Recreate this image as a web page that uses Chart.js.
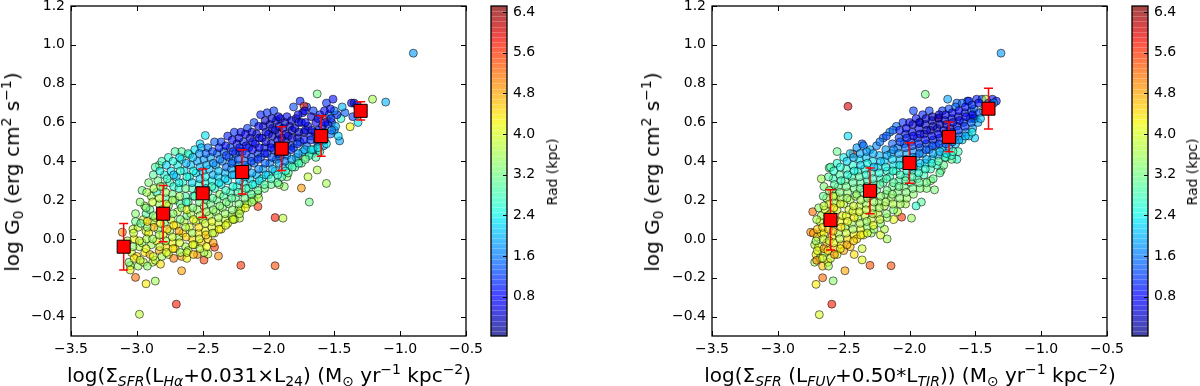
<!DOCTYPE html>
<html lang="en">
  <head>
    <meta charset="UTF-8" />
    <title>log G0 vs SFR surface density</title>
    <style>
      body { margin: 0; background: #fff; }
      .figure {
        position: relative;
        width: 1200px;
        height: 386px;
        overflow: hidden;
        font-family: "DejaVu Sans", sans-serif;
        color: #000;
      }
      .figure canvas { position: absolute; top: -20px; }
      .lbl {
        position: absolute;
        white-space: nowrap;
        font-size: 20px;
        line-height: 1;
        transform: translate(-50%, -50%);
      }
      .lbl.vert { transform: translate(-50%, -50%) rotate(-90deg); }
      .lbl.small { font-size: 14px; }
      .lo { font-size: 70%; vertical-align: -0.28em; line-height: 0; }
      .hi { font-size: 70%; vertical-align: 0.6em; line-height: 0; }
      .it { font-style: italic; }
    </style>
  </head>
  <body>
    <div class="figure">
      <canvas id="haChart" width="490" height="406" style="left:0px"></canvas>
      <canvas id="haBar" width="57" height="406" style="left:490px"></canvas>
      <canvas id="fuvChart" width="490" height="406" style="left:641px"></canvas>
      <canvas id="fuvBar" width="57" height="406" style="left:1131px"></canvas>

      <div class="lbl vert" style="left:12px; top:172px">log G<span class="lo">0</span> (erg cm<span class="hi">2</span> s<span class="hi">&minus;1</span>)</div>
      <div class="lbl" style="left:269px; top:375px">log(&Sigma;<span class="lo it">SFR</span>(L<span class="lo it">H&alpha;</span>+0.031&times;L<span class="lo">24</span>) (M<span class="lo">&#8857;</span> yr<span class="hi">&minus;1</span> kpc<span class="hi">&minus;2</span>)</div>
      <div class="lbl vert small" style="left:552px; top:172px">Rad (kpc)</div>

      <div class="lbl vert" style="left:652px; top:172px">log G<span class="lo">0</span> (erg cm<span class="hi">2</span> s<span class="hi">&minus;1</span>)</div>
      <div class="lbl" style="left:910px; top:375px">log(&Sigma;<span class="lo it">SFR</span> (L<span class="lo it">FUV</span>+0.50*L<span class="lo it">TIR</span>)) (M<span class="lo">&#8857;</span> yr<span class="hi">&minus;1</span> kpc<span class="hi">&minus;2</span>)</div>
      <div class="lbl vert small" style="left:1192px; top:172px">Rad (kpc)</div>
    </div>

    <script src="https://cdn.jsdelivr.net/npm/chart.js@4.4.1/dist/chart.umd.min.js"></script>
    <script>
      // axis ticks
      var xTicks = [-3.5, -3.0, -2.5, -2.0, -1.5, -1.0, -0.5];
      var yTicks = [-0.4, -0.2, 0.0, 0.2, 0.4, 0.6, 0.8, 1.0, 1.2];
      var radTicks = [0.8, 1.6, 2.4, 3.2, 4.0, 4.8, 5.6, 6.4];
      var radMin = 0.03;
      var radMax = 6.52;

      // left panel: [log SFR (Halpha+24um), log G0, radius kpc]
      var haPoints = [
        [-0.90,0.957,1.8],[-1.11,0.705,2.0],[-1.21,0.72,3.6],[-1.63,0.747,3.2],[-1.51,0.72,0.9],
        [-1.37,0.70,0.6],[-1.35,0.70,0.5],[-1.33,0.69,1.0],[-1.38,0.578,4.2],[-1.32,0.60,2.3],
        [-1.36,0.63,1.2],[-1.42,0.65,1.4],[-1.45,0.62,2.6],[-1.48,0.64,1.0],[-1.44,0.68,2.0],
        [-1.46,0.505,1.9],[-1.50,0.56,1.6],[-1.52,0.60,1.0],[-1.56,0.62,5.8],[-1.56,0.286,3.6],
        [-1.69,0.19,3.2],[-1.75,0.262,4.9],[-1.63,0.355,3.7],[-1.70,0.32,3.8],[-1.67,0.44,2.9],
        [-1.62,0.46,3.0],[-1.72,0.42,3.4],[-1.78,0.40,3.5],[-1.95,0.11,5.8],[-1.89,0.107,3.8],
        [-1.95,-0.138,5.4],[-2.21,-0.136,5.6],[-2.70,-0.336,5.8],[-2.98,-0.388,3.8],[-2.93,-0.231,4.3],
        [-2.86,-0.217,3.6],[-3.01,-0.198,5.2],[-3.05,-0.138,3.7],[-3.11,0.034,5.0],[-2.66,-0.164,4.8],
        [-2.49,-0.109,5.5],[-2.41,-0.043,5.6],[-2.38,-0.088,5.0],[-2.46,-0.078,3.8],[-2.08,0.167,5.6],
        [-2.27,0.107,3.6],[-2.22,0.107,3.7],[-2.48,0.533,2.3],[-2.52,0.49,2.2],[-2.60,0.434,2.8],
        [-2.66,0.45,3.0],[-2.83,0.38,3.1],[-1.88,0.27,3.4],[-1.92,0.28,3.5],[-1.86,0.32,3.3],
        [-3.07,-0.01,3.6],[-3.04,-0.07,4.0],[-3.06,-0.12,3.3],[-3.03,0.05,3.8],[-3.05,-0.16,4.1],
        [-3.01,0.13,3.4],[-2.99,0.06,3.9],[-3.02,0.00,4.2],[-2.98,-0.04,3.7],[-3.00,-0.09,4.5],[-2.99,-0.14,3.5],[-3.01,0.09,3.2],
        [-2.96,0.25,3.2],[-2.94,0.17,3.6],[-2.95,0.10,3.9],[-2.93,0.04,4.0],[-2.96,-0.02,3.5],[-2.94,-0.07,4.3],[-2.95,-0.12,3.8],[-2.93,0.13,3.0],
        [-2.91,0.29,3.3],[-2.89,0.22,3.5],[-2.90,0.15,3.1],[-2.88,0.09,3.8],[-2.91,0.03,4.2],[-2.89,-0.03,3.6],[-2.90,-0.08,4.6],[-2.88,-0.12,3.9],[-2.92,0.06,3.4],
        [-2.86,0.37,2.9],[-2.84,0.30,3.2],[-2.85,0.24,2.7],[-2.83,0.18,3.5],[-2.86,0.11,3.9],[-2.84,0.05,3.4],[-2.85,-0.01,4.1],[-2.83,-0.06,4.8],[-2.86,-0.11,3.7],
        [-2.81,0.40,2.8],[-2.79,0.33,2.5],[-2.80,0.27,3.1],[-2.78,0.21,2.9],[-2.81,0.15,3.6],[-2.79,0.08,3.3],[-2.80,0.02,4.0],[-2.78,-0.04,4.4],[-2.81,-0.09,3.6],[-2.77,0.12,3.8],
        [-2.76,0.42,2.6],[-2.74,0.35,2.3],[-2.75,0.29,2.8],[-2.73,0.23,3.2],[-2.76,0.17,3.4],[-2.74,0.10,3.9],[-2.75,0.04,3.6],[-2.73,-0.02,4.2],[-2.76,-0.08,3.8],[-2.72,0.27,2.6],
        [-2.71,0.45,2.9],[-2.69,0.38,2.4],[-2.70,0.32,2.2],[-2.68,0.26,2.7],[-2.71,0.20,3.3],[-2.69,0.14,3.7],[-2.70,0.07,4.1],[-2.68,0.01,3.5],[-2.71,-0.05,4.6],[-2.67,0.18,3.0],
        [-2.66,0.41,2.5],[-2.64,0.35,2.3],[-2.65,0.29,2.6],[-2.63,0.22,2.9],[-2.66,0.16,3.4],[-2.64,0.09,3.8],[-2.65,0.03,4.3],[-2.63,-0.04,3.6],[-2.66,-0.09,4.9],[-2.62,0.12,3.2],
        [-2.61,0.44,2.6],[-2.59,0.38,2.1],[-2.60,0.32,2.4],[-2.58,0.26,2.8],[-2.61,0.19,3.1],[-2.59,0.13,3.6],[-2.60,0.06,4.0],[-2.58,0.00,4.4],[-2.61,-0.06,3.7],[-2.57,0.22,2.5],[-2.62,-0.10,4.2],
        [-2.56,0.46,2.3],[-2.54,0.40,1.9],[-2.55,0.34,2.3],[-2.53,0.28,2.6],[-2.56,0.22,3.0],[-2.54,0.15,3.5],[-2.55,0.09,3.9],[-2.53,0.03,4.3],[-2.56,-0.03,3.8],[-2.54,-0.08,5.0],[-2.52,0.31,2.2],
        [-2.51,0.47,2.0],[-2.49,0.41,1.8],[-2.50,0.35,2.2],[-2.48,0.29,2.5],[-2.51,0.23,2.9],[-2.49,0.17,3.3],[-2.50,0.10,3.8],[-2.48,0.04,4.1],[-2.51,-0.02,4.5],[-2.49,-0.07,3.7],[-2.47,0.20,3.0],
        [-2.46,0.47,1.6],[-2.44,0.42,1.9],[-2.45,0.36,2.1],[-2.43,0.30,2.4],[-2.46,0.24,2.8],[-2.44,0.18,3.2],[-2.45,0.12,3.6],[-2.43,0.06,4.0],[-2.46,0.00,4.4],[-2.42,0.33,2.0],
        [-2.41,0.50,1.4],[-2.39,0.44,1.5],[-2.40,0.38,1.9],[-2.38,0.32,2.2],[-2.41,0.26,2.6],[-2.39,0.20,3.1],[-2.40,0.14,3.5],[-2.38,0.08,3.9],[-2.41,0.03,4.3],[-2.37,0.23,3.4],
        [-2.36,0.50,1.2],[-2.34,0.45,1.4],[-2.35,0.40,1.7],[-2.33,0.34,2.0],[-2.36,0.28,2.4],[-2.34,0.22,2.9],[-2.35,0.16,3.4],[-2.33,0.10,3.8],[-2.36,0.05,4.4],[-2.32,0.37,1.5],
        [-2.31,0.53,1.0],[-2.29,0.47,1.3],[-2.30,0.42,1.5],[-2.28,0.36,1.9],[-2.31,0.30,2.3],[-2.29,0.24,2.8],[-2.30,0.18,3.3],[-2.28,0.12,3.7],[-2.31,0.08,4.2],[-2.27,0.40,1.6],
        [-2.26,0.55,1.1],[-2.24,0.49,1.0],[-2.25,0.44,1.3],[-2.23,0.38,1.7],[-2.26,0.33,2.1],[-2.24,0.27,2.6],[-2.25,0.21,3.1],[-2.23,0.15,3.6],[-2.26,0.10,4.0],[-2.22,0.45,1.2],
        [-2.21,0.55,0.9],[-2.19,0.50,1.1],[-2.20,0.45,1.2],[-2.18,0.40,1.5],[-2.21,0.35,1.9],[-2.19,0.29,2.4],[-2.20,0.24,3.0],[-2.18,0.18,3.5],[-2.21,0.15,3.9],[-2.17,0.48,0.8],
        [-2.16,0.57,1.2],[-2.14,0.52,0.8],[-2.15,0.47,1.0],[-2.13,0.42,1.3],[-2.16,0.37,1.7],[-2.14,0.31,2.2],[-2.15,0.26,2.9],[-2.13,0.21,3.4],[-2.16,0.18,3.8],[-2.12,0.50,0.9],
        [-2.11,0.60,1.3],[-2.09,0.54,0.7],[-2.10,0.49,0.9],[-2.08,0.44,1.2],[-2.11,0.39,1.5],[-2.09,0.33,2.0],[-2.10,0.28,2.7],[-2.08,0.23,3.3],[-2.11,0.20,3.6],[-2.07,0.52,0.8],
        [-2.06,0.64,1.0],[-2.04,0.58,0.7],[-2.05,0.52,0.6],[-2.03,0.47,1.0],[-2.06,0.42,1.4],[-2.04,0.36,1.9],[-2.05,0.31,2.5],[-2.03,0.26,3.2],[-2.02,0.55,0.8],
        [-2.01,0.65,1.1],[-1.99,0.59,0.6],[-2.00,0.54,0.7],[-1.98,0.49,0.9],[-2.01,0.44,1.2],[-1.99,0.39,1.7],[-2.00,0.33,2.4],[-1.98,0.28,3.1],[-1.97,0.57,0.5],
        [-1.96,0.66,1.2],[-1.94,0.61,0.7],[-1.95,0.56,0.6],[-1.93,0.51,0.8],[-1.96,0.46,1.1],[-1.94,0.41,1.6],[-1.95,0.35,2.3],[-1.93,0.29,3.0],[-1.92,0.58,0.5],
        [-1.91,0.62,0.8],[-1.89,0.57,0.5],[-1.90,0.52,0.7],[-1.88,0.47,1.0],[-1.91,0.42,1.4],[-1.89,0.37,2.1],[-1.90,0.32,2.8],[-1.87,0.54,0.6],
        [-1.86,0.63,0.9],[-1.84,0.58,0.6],[-1.85,0.53,0.7],[-1.83,0.48,1.1],[-1.86,0.43,1.6],[-1.84,0.38,2.4],[-1.85,0.34,3.1],[-1.82,0.56,0.5],
        [-1.81,0.68,1.3],[-1.79,0.62,0.7],[-1.80,0.57,0.6],[-1.78,0.52,0.8],[-1.81,0.47,1.3],[-1.79,0.42,2.0],[-1.80,0.37,2.9],[-1.77,0.60,0.9],
        [-1.76,0.71,1.0],[-1.74,0.65,0.8],[-1.75,0.60,0.6],[-1.73,0.55,0.9],[-1.76,0.50,1.4],[-1.74,0.45,2.2],[-1.75,0.39,3.0],
        [-1.71,0.68,1.1],[-1.73,0.684,5.6],[-1.70,0.58,0.7],[-1.68,0.53,1.0],[-1.71,0.48,1.5],[-1.69,0.43,2.6],[-1.72,0.60,0.8],
        [-1.66,0.66,1.2],[-1.64,0.60,0.8],[-1.65,0.55,0.7],[-1.63,0.50,1.3],[-1.66,0.46,2.0],[-1.64,0.42,2.9],
        [-1.61,0.64,1.0],[-1.59,0.58,0.9],[-1.60,0.53,1.2],[-1.58,0.48,1.8],[-1.61,0.45,2.6],
        [-1.56,0.70,1.1],[-1.54,0.64,1.5],[-1.55,0.59,1.1],[-1.53,0.54,1.6],[-1.56,0.49,2.4],
        [-1.50,0.66,1.7],[-1.49,0.58,2.0],[-1.47,0.53,2.2],
        [-3.025,0.03,3.9],[-3.02,-0.10,4.3],[-3.03,-0.04,3.4],
        [-2.975,0.19,3.4],[-2.97,0.08,3.1],[-2.98,-0.01,4.0],[-2.975,-0.11,3.9],
        [-2.925,0.24,3.6],[-2.93,0.16,3.3],[-2.92,0.09,4.4],[-2.925,0.00,3.7],[-2.93,-0.05,4.1],[-2.92,-0.14,3.4],
        [-2.875,0.33,3.0],[-2.87,0.26,3.7],[-2.88,0.19,3.9],[-2.875,0.12,3.3],[-2.87,0.06,4.7],[-2.88,0.00,3.5],[-2.875,-0.09,4.0],
        [-2.825,0.35,2.4],[-2.82,0.27,3.4],[-2.83,0.21,3.8],[-2.825,0.14,3.1],[-2.82,0.08,4.2],[-2.83,0.02,3.7],[-2.825,-0.04,3.9],[-2.82,-0.13,4.4],
        [-2.775,0.38,2.2],[-2.77,0.31,2.7],[-2.78,0.24,3.5],[-2.775,0.18,4.0],[-2.77,0.05,4.5],[-2.78,-0.01,3.5],[-2.775,-0.07,4.1],
        [-2.725,0.40,2.5],[-2.72,0.33,2.1],[-2.73,0.20,3.6],[-2.725,0.13,3.4],[-2.72,0.07,4.4],[-2.73,0.01,3.9],[-2.725,-0.05,4.3],[-2.72,-0.10,5.1],
        [-2.675,0.42,2.3],[-2.67,0.35,2.6],[-2.68,0.29,2.4],[-2.675,0.22,3.5],[-2.67,0.10,3.3],[-2.68,0.04,4.8],[-2.675,-0.02,4.0],[-2.67,-0.07,3.6],
        [-2.625,0.39,2.0],[-2.62,0.32,2.5],[-2.63,0.26,3.1],[-2.625,0.19,2.7],[-2.62,0.15,4.1],[-2.63,0.06,3.7],[-2.625,0.01,4.5],[-2.62,-0.07,3.9],
        [-2.575,0.42,2.1],[-2.57,0.35,2.4],[-2.58,0.29,2.2],[-2.575,0.16,3.3],[-2.57,0.10,4.1],[-2.58,0.03,3.6],[-2.575,-0.03,4.2],[-2.57,-0.08,4.6],
        [-2.525,0.44,1.8],[-2.52,0.37,2.0],[-2.53,0.25,2.7],[-2.525,0.19,3.2],[-2.52,0.12,3.6],[-2.53,0.06,4.4],[-2.525,0.00,4.0],[-2.52,-0.05,3.8],
        [-2.475,0.44,1.5],[-2.47,0.38,2.0],[-2.48,0.32,2.4],[-2.475,0.26,2.3],[-2.47,0.14,3.5],[-2.48,0.08,3.9],[-2.475,0.02,4.6],[-2.47,-0.04,4.2],
        [-2.425,0.45,1.3],[-2.42,0.39,1.7],[-2.43,0.27,2.7],[-2.425,0.21,3.0],[-2.42,0.15,3.4],[-2.43,0.09,4.1],[-2.425,0.03,3.7],[-2.42,-0.02,4.9],
        [-2.375,0.47,1.1],[-2.37,0.41,1.6],[-2.38,0.35,2.1],[-2.375,0.29,2.3],[-2.37,0.17,3.3],[-2.38,0.11,3.6],[-2.375,0.05,4.2],
        [-2.325,0.48,0.9],[-2.32,0.43,1.2],[-2.33,0.31,2.2],[-2.325,0.25,2.7],[-2.32,0.19,3.2],[-2.33,0.13,3.5],[-2.325,0.07,4.0],
        [-2.275,0.51,0.8],[-2.27,0.45,1.0],[-2.28,0.39,1.4],[-2.275,0.33,2.0],[-2.27,0.27,2.5],[-2.28,0.21,3.0],[-2.275,0.15,3.4],[-2.27,0.10,3.9],
        [-2.225,0.52,0.6],[-2.22,0.47,0.9],[-2.23,0.41,1.3],[-2.225,0.36,1.8],[-2.22,0.30,2.2],[-2.23,0.24,2.8],[-2.225,0.18,3.3],[-2.22,0.13,3.7],
        [-2.175,0.54,0.7],[-2.17,0.44,1.1],[-2.18,0.38,1.6],[-2.175,0.32,2.1],[-2.17,0.26,2.7],[-2.18,0.21,3.2],[-2.175,0.16,4.2],
        [-2.125,0.55,0.5],[-2.12,0.46,0.8],[-2.13,0.40,1.3],[-2.125,0.34,1.9],[-2.12,0.28,2.4],[-2.13,0.23,3.0],[-2.125,0.19,3.5],
        [-2.075,0.58,0.6],[-2.07,0.47,0.7],[-2.08,0.41,1.1],[-2.075,0.36,1.7],[-2.07,0.30,2.3],[-2.08,0.25,3.1],[-2.075,0.21,3.7],
        [-2.025,0.61,0.4],[-2.02,0.50,0.5],[-2.03,0.44,0.9],[-2.025,0.39,1.4],[-2.02,0.33,2.1],[-2.03,0.28,2.9],
        [-1.975,0.62,0.5],[-1.97,0.53,0.4],[-1.98,0.47,0.8],[-1.975,0.42,1.3],[-1.97,0.36,2.0],[-1.98,0.31,2.7],
        [-1.925,0.63,0.6],[-1.92,0.54,0.3],[-1.93,0.48,0.7],[-1.925,0.44,1.2],[-1.92,0.39,1.8],[-1.93,0.33,2.6],
        [-1.875,0.60,0.4],[-1.87,0.50,0.4],[-1.88,0.45,0.9],[-1.875,0.40,1.6],[-1.87,0.35,2.5],
        [-1.825,0.61,0.5],[-1.82,0.52,0.4],[-1.83,0.46,1.0],[-1.825,0.41,1.9],[-1.82,0.37,2.8],
        [-1.775,0.64,0.6],[-1.77,0.55,0.4],[-1.78,0.49,1.1],[-1.775,0.44,1.8],[-1.77,0.39,2.7],
        [-1.725,0.66,0.7],[-1.72,0.56,0.5],[-1.73,0.51,0.9],[-1.725,0.46,1.9],[-1.72,0.41,3.1],
        [-1.675,0.63,0.5],[-1.67,0.56,0.6],[-1.68,0.51,1.1],[-1.675,0.46,2.4],
        [-1.625,0.62,0.6],[-1.62,0.56,0.9],[-1.63,0.51,1.6],[-1.625,0.47,2.3],
        [-1.575,0.66,0.8],[-1.57,0.60,0.7],[-1.58,0.55,1.4],[-1.575,0.51,2.0],
        [-1.525,0.62,1.2],[-1.52,0.56,1.7],[-1.53,0.67,0.9]
      ];
      var haBinX = [-3.1, -2.8, -2.5, -2.2, -1.9, -1.6, -1.3];
      var haBinY = [-0.04, 0.13, 0.235, 0.345, 0.465, 0.53, 0.66];
      var haBinErr = [0.12, 0.145, 0.125, 0.114, 0.113, 0.104, 0.047];

      // right panel: [log SFR (FUV+TIR), log G0, radius kpc]
      var fuvPoints = [
        [-1.305,0.957,1.8],[-2.467,0.683,6.0],[-2.467,0.53,2.3],[-2.43,0.438,5.7],[-1.88,0.745,3.2],
        [-2.735,0.14,5.2],[-2.75,0.034,5.0],[-2.685,-0.39,4.0],[-2.59,-0.336,5.8],[-2.71,-0.234,4.3],
        [-2.66,-0.20,5.2],[-2.58,-0.216,3.4],[-2.49,-0.164,4.8],[-2.30,-0.136,5.4],[-2.14,-0.138,5.4],
        [-2.06,0.112,5.6],[-1.985,0.107,3.5],[-1.81,0.253,3.3],[-1.76,0.353,3.2],[-1.64,0.41,2.6],
        [-1.505,0.52,2.2],[-1.91,0.19,3.0],[-1.95,0.17,2.6],[-2.36,-0.108,4.1],[-2.17,0.0,3.6],
        [-2.29,0.03,3.4],[-2.22,0.02,4.0],[-2.42,-0.08,4.4],[-2.55,0.45,3.1],[-2.61,0.366,3.0],
        [-2.67,0.31,3.6],[-2.36,0.49,1.4],[-1.97,0.66,1.2],[-1.92,0.60,0.8],[-1.71,0.72,1.9],
        [-1.64,0.70,1.5],[-1.56,0.71,1.4],[-1.51,0.62,1.0],[-1.72,0.42,3.3],[-1.68,0.41,3.1],
        [-1.84,0.30,3.4],[-1.87,0.26,3.3],[-2.03,0.18,3.6],[-2.09,0.14,3.8],[-2.12,0.10,4.1],[-2.19,0.05,3.7],
        [-2.73,0.03,4.9],[-2.72,-0.03,3.8],[-2.71,-0.08,4.2],[-2.72,-0.12,3.6],[-2.70,0.01,4.5],
        [-2.69,0.16,3.4],[-2.68,0.09,3.9],[-2.67,0.03,4.4],[-2.69,-0.04,4.0],[-2.68,-0.10,3.7],[-2.66,-0.14,4.6],[-2.67,0.12,3.6],
        [-2.65,0.27,3.3],[-2.63,0.21,3.6],[-2.64,0.15,4.0],[-2.62,0.09,3.5],[-2.65,0.03,4.2],[-2.63,-0.02,4.6],[-2.64,-0.07,3.8],[-2.62,-0.12,4.3],[-2.61,0.18,3.9],
        [-2.60,0.37,2.9],[-2.58,0.31,2.7],[-2.59,0.25,3.2],[-2.57,0.19,3.7],[-2.60,0.13,4.1],[-2.58,0.07,3.6],[-2.59,0.01,4.3],[-2.57,-0.05,4.7],[-2.60,-0.10,3.9],[-2.56,0.22,4.0],
        [-2.55,0.39,2.6],[-2.53,0.33,2.9],[-2.54,0.27,3.1],[-2.52,0.21,3.6],[-2.55,0.15,3.9],[-2.53,0.09,4.2],[-2.54,0.03,3.7],[-2.52,-0.03,4.5],[-2.55,-0.08,4.0],[-2.51,0.12,4.1],
        [-2.50,0.42,2.4],[-2.48,0.36,2.8],[-2.49,0.30,3.0],[-2.47,0.24,3.4],[-2.50,0.18,3.8],[-2.48,0.12,4.1],[-2.49,0.06,3.6],[-2.47,0.00,4.4],[-2.50,-0.06,4.8],[-2.46,0.15,3.9],
        [-2.45,0.44,2.2],[-2.43,0.38,2.6],[-2.44,0.32,2.9],[-2.42,0.26,3.2],[-2.45,0.20,3.7],[-2.43,0.14,4.0],[-2.44,0.08,3.5],[-2.42,0.02,4.3],[-2.45,-0.04,4.6],[-2.41,0.22,3.6],
        [-2.40,0.47,1.8],[-2.38,0.41,2.3],[-2.39,0.35,2.7],[-2.37,0.29,3.0],[-2.40,0.23,3.4],[-2.38,0.17,3.8],[-2.39,0.11,3.5],[-2.37,0.05,4.1],[-2.40,0.00,4.4],[-2.36,-0.05,3.9],
        [-2.35,0.48,1.6],[-2.33,0.42,2.1],[-2.34,0.36,2.5],[-2.32,0.30,2.8],[-2.35,0.24,3.2],[-2.33,0.18,3.6],[-2.34,0.12,3.9],[-2.32,0.06,3.4],[-2.35,0.02,4.2],
        [-2.30,0.46,2.0],[-2.28,0.40,2.3],[-2.29,0.34,2.6],[-2.27,0.28,2.9],[-2.30,0.22,3.3],[-2.28,0.16,3.6],[-2.29,0.10,3.9],[-2.27,0.05,3.5],
        [-2.25,0.48,1.7],[-2.23,0.43,2.0],[-2.24,0.37,2.3],[-2.22,0.31,2.7],[-2.25,0.25,3.1],[-2.23,0.19,3.5],[-2.24,0.13,3.8],[-2.22,0.08,3.4],
        [-2.20,0.52,1.5],[-2.18,0.46,1.8],[-2.19,0.40,2.2],[-2.17,0.35,2.5],[-2.20,0.29,2.9],[-2.18,0.23,3.3],[-2.19,0.17,3.7],[-2.17,0.11,3.5],
        [-2.15,0.55,1.9],[-2.13,0.49,1.4],[-2.14,0.44,1.9],[-2.12,0.38,2.3],[-2.15,0.32,2.7],[-2.13,0.27,3.1],[-2.14,0.21,3.5],[-2.12,0.15,3.3],
        [-2.10,0.58,1.6],[-2.08,0.52,1.2],[-2.09,0.47,1.6],[-2.07,0.41,2.1],[-2.10,0.35,2.5],[-2.08,0.30,2.9],[-2.09,0.24,3.3],[-2.07,0.18,3.6],
        [-2.05,0.60,1.1],[-2.03,0.54,1.0],[-2.04,0.49,1.4],[-2.02,0.44,1.9],[-2.05,0.38,2.3],[-2.03,0.32,2.7],[-2.04,0.27,3.2],[-2.02,0.21,3.5],
        [-2.00,0.60,0.8],[-1.98,0.55,0.9],[-1.99,0.50,1.2],[-1.97,0.45,1.7],[-2.00,0.40,2.1],[-1.98,0.35,2.6],[-1.99,0.29,3.0],[-1.97,0.23,3.4],
        [-1.95,0.62,0.9],[-1.93,0.57,0.7],[-1.94,0.52,1.0],[-1.92,0.47,1.5],[-1.95,0.42,2.0],[-1.93,0.37,2.4],[-1.94,0.31,2.9],[-1.92,0.26,3.3],
        [-1.90,0.64,1.0],[-1.88,0.59,0.6],[-1.89,0.54,0.8],[-1.87,0.49,1.3],[-1.90,0.44,1.8],[-1.88,0.39,2.3],[-1.89,0.33,2.8],[-1.87,0.29,3.2],
        [-1.85,0.66,1.2],[-1.83,0.61,0.7],[-1.84,0.56,0.6],[-1.82,0.51,1.1],[-1.85,0.46,1.6],[-1.83,0.41,2.2],[-1.84,0.36,2.8],[-1.82,0.31,3.1],
        [-1.78,0.624,6.1],[-1.78,0.62,0.8],[-1.79,0.57,0.6],[-1.77,0.52,0.9],[-1.80,0.48,1.4],[-1.78,0.43,2.0],[-1.79,0.38,2.7],[-1.77,0.34,3.0],
        [-1.75,0.66,1.1],[-1.73,0.61,0.7],[-1.74,0.56,0.8],[-1.72,0.51,1.2],[-1.75,0.47,1.9],[-1.73,0.42,2.6],[-1.74,0.38,3.1],
        [-1.70,0.67,1.3],[-1.68,0.62,0.9],[-1.69,0.57,0.7],[-1.67,0.52,1.1],[-1.70,0.47,1.8],[-1.68,0.43,2.5],
        [-1.65,0.68,1.5],[-1.63,0.63,0.8],[-1.64,0.58,1.0],[-1.62,0.53,1.4],[-1.65,0.49,2.1],[-1.63,0.45,2.8],
        [-1.60,0.70,1.4],[-1.58,0.65,1.0],[-1.59,0.60,1.2],[-1.57,0.55,1.7],[-1.60,0.51,2.3],
        [-1.55,0.71,1.0],[-1.53,0.66,1.3],[-1.54,0.62,0.9],[-1.52,0.57,1.8],[-1.55,0.53,2.2],
        [-1.49,0.72,1.0],[-1.50,0.62,1.4],[-1.48,0.60,2.0],[-1.51,0.67,1.6],
        [-1.45,0.72,1.2],[-1.44,0.66,3.7],[-1.42,0.72,3.8],[-1.40,0.70,1.1],[-1.37,0.72,0.9],[-1.34,0.71,1.0],[-1.36,0.70,1.8],
        [-2.705,0.10,3.7],[-2.70,0.05,4.6],[-2.71,-0.01,3.5],[-2.70,-0.06,4.1],[-2.705,-0.11,5.0],
        [-2.655,0.22,3.1],[-2.65,0.17,3.8],[-2.66,0.06,4.3],[-2.655,0.00,3.9],[-2.65,-0.05,4.8],[-2.66,-0.10,4.0],
        [-2.615,0.32,3.0],[-2.61,0.25,3.5],[-2.62,0.12,4.2],[-2.615,0.05,4.5],[-2.61,-0.01,3.8],[-2.62,-0.06,4.4],[-2.615,-0.14,3.6],
        [-2.575,0.35,2.6],[-2.57,0.28,3.0],[-2.58,0.22,3.7],[-2.575,0.16,4.3],[-2.57,0.10,3.9],[-2.58,0.04,4.6],[-2.575,-0.02,4.1],[-2.57,-0.08,4.9],
        [-2.525,0.37,2.5],[-2.52,0.30,2.7],[-2.53,0.24,3.3],[-2.525,0.18,4.0],[-2.52,0.06,4.4],[-2.53,0.00,3.8],[-2.525,-0.05,4.2],
        [-2.475,0.40,2.2],[-2.47,0.33,2.5],[-2.48,0.27,3.2],[-2.475,0.21,3.5],[-2.47,0.09,4.2],[-2.48,0.03,3.9],[-2.475,-0.03,4.7],
        [-2.425,0.42,2.0],[-2.42,0.35,2.4],[-2.43,0.29,3.0],[-2.425,0.17,3.9],[-2.42,0.11,4.3],[-2.43,0.05,3.6],[-2.425,-0.01,4.5],
        [-2.375,0.44,1.9],[-2.37,0.38,2.2],[-2.38,0.32,2.9],[-2.375,0.26,3.1],[-2.37,0.20,3.6],[-2.38,0.14,4.0],[-2.375,0.08,3.7],[-2.37,0.02,4.3],
        [-2.325,0.45,1.8],[-2.32,0.39,2.4],[-2.33,0.33,2.6],[-2.325,0.27,3.0],[-2.32,0.21,3.4],[-2.33,0.15,3.8],[-2.325,0.09,3.5],[-2.32,0.03,4.0],
        [-2.275,0.44,1.9],[-2.27,0.37,2.1],[-2.28,0.31,2.7],[-2.275,0.25,3.2],[-2.27,0.19,3.5],[-2.28,0.13,3.7],[-2.275,0.07,4.1],
        [-2.225,0.50,1.6],[-2.22,0.40,2.1],[-2.23,0.34,2.5],[-2.225,0.28,3.0],[-2.22,0.22,3.4],[-2.23,0.16,3.6],[-2.225,0.10,3.9],
        [-2.175,0.53,1.3],[-2.17,0.43,1.9],[-2.18,0.37,2.4],[-2.175,0.31,2.8],[-2.17,0.25,3.2],[-2.18,0.19,3.6],[-2.175,0.13,3.4],
        [-2.125,0.56,1.4],[-2.12,0.46,1.7],[-2.13,0.41,2.2],[-2.125,0.35,2.6],[-2.12,0.29,3.0],[-2.13,0.23,3.4],[-2.125,0.18,3.7],
        [-2.075,0.56,1.0],[-2.07,0.50,1.3],[-2.08,0.44,1.8],[-2.075,0.38,2.4],[-2.07,0.33,2.8],[-2.08,0.27,3.1],[-2.075,0.21,3.4],
        [-2.025,0.57,0.7],[-2.02,0.52,1.0],[-2.03,0.47,1.5],[-2.025,0.41,2.0],[-2.02,0.35,2.5],[-2.03,0.30,3.0],[-2.025,0.24,3.3],
        [-1.975,0.59,0.5],[-1.97,0.53,0.8],[-1.98,0.48,1.3],[-1.975,0.42,1.8],[-1.97,0.37,2.3],[-1.98,0.32,2.8],[-1.975,0.26,3.2],
        [-1.925,0.60,0.4],[-1.92,0.54,0.6],[-1.93,0.49,1.1],[-1.925,0.44,1.6],[-1.92,0.39,2.1],[-1.93,0.34,2.6],[-1.925,0.29,3.1],
        [-1.875,0.62,0.5],[-1.87,0.56,0.4],[-1.88,0.51,0.9],[-1.875,0.46,1.4],[-1.87,0.41,2.0],[-1.88,0.36,2.6],
        [-1.825,0.63,0.4],[-1.82,0.58,0.3],[-1.83,0.53,0.7],[-1.825,0.48,1.3],[-1.82,0.44,1.9],[-1.83,0.39,2.5],
        [-1.775,0.64,0.5],[-1.77,0.59,0.4],[-1.78,0.54,0.7],[-1.775,0.49,1.2],[-1.77,0.45,2.1],[-1.78,0.40,2.9],
        [-1.725,0.64,0.6],[-1.72,0.59,0.3],[-1.73,0.54,0.6],[-1.725,0.49,1.4],[-1.72,0.44,2.3],
        [-1.675,0.65,0.7],[-1.67,0.60,0.5],[-1.68,0.55,0.9],[-1.675,0.50,1.6],[-1.67,0.45,2.7],
        [-1.625,0.66,0.8],[-1.62,0.61,0.6],[-1.63,0.56,1.2],[-1.625,0.51,1.8],
        [-1.575,0.68,0.9],[-1.57,0.63,0.7],[-1.58,0.58,1.1],[-1.575,0.53,2.0],
        [-1.525,0.69,1.1],[-1.52,0.64,0.8],[-1.53,0.60,1.5],[-1.525,0.55,2.4],
        [-1.475,0.70,0.9],[-1.47,0.65,1.3],[-1.46,0.62,2.1]
      ];
      var fuvBinX = [-2.6, -2.3, -2.0, -1.7, -1.4];
      var fuvBinY = [0.098, 0.248, 0.391, 0.526, 0.671];
      var fuvBinErr = [0.155, 0.118, 0.104, 0.077, 0.105];

      // matplotlib "jet" segments
      var jetR = [[0, 0], [0.35, 0], [0.66, 1], [0.89, 1], [1, 0.5]];
      var jetG = [[0, 0], [0.125, 0], [0.375, 1], [0.64, 1], [0.91, 0], [1, 0]];
      var jetB = [[0, 0.5], [0.11, 1], [0.34, 1], [0.65, 0], [1, 0]];

      function seg(pts, t) {
        for (var i = 1; i < pts.length; i++) {
          if (t <= pts[i][0]) {
            var a = pts[i - 1], b = pts[i];
            return a[1] + ((b[1] - a[1]) * (t - a[0])) / (b[0] - a[0]);
          }
        }
        return pts[pts.length - 1][1];
      }

      function jet(rad, alpha) {
        var t = Math.min(1, Math.max(0, (rad - radMin) / (radMax - radMin)));
        var r = Math.round(seg(jetR, t) * 255);
        var g = Math.round(seg(jetG, t) * 255);
        var b = Math.round(seg(jetB, t) * 255);
        return "rgba(" + r + "," + g + "," + b + "," + alpha + ")";
      }

      function fmt(v) {
        return Number(v).toFixed(1).replace("-", "\u2212");
      }

      var tickFont = { family: "DejaVu Sans", size: 14 };

      // box and inward ticks like matplotlib
      var frame = {
        id: "frame",
        afterDatasetsDraw: function (chart) {
          var ctx = chart.ctx, a = chart.chartArea;
          var x = chart.scales.x, y = chart.scales.y;
          ctx.save();
          ctx.strokeStyle = "#000";
          ctx.lineWidth = 1;
          ctx.beginPath();
          xTicks.forEach(function (v) {
            var px = Math.round(x.getPixelForValue(v)) + 0.5;
            ctx.moveTo(px, a.bottom); ctx.lineTo(px, a.bottom - 5);
            ctx.moveTo(px, a.top); ctx.lineTo(px, a.top + 5);
          });
          yTicks.forEach(function (v) {
            var py = Math.round(y.getPixelForValue(v)) + 0.5;
            ctx.moveTo(a.left, py); ctx.lineTo(a.left + 5, py);
            ctx.moveTo(a.right, py); ctx.lineTo(a.right - 5, py);
          });
          ctx.stroke();
          ctx.lineWidth = 1.3;
          ctx.strokeRect(a.left, a.top, a.right - a.left, a.bottom - a.top);
          ctx.restore();
        },
      };

      // vertical error bars, drawn over the scatter and under the squares
      var errorBars = {
        id: "errorBars",
        afterDatasetDraw: function (chart, args) {
          if (args.index !== 1) return;
          var ds = chart.data.datasets[0];
          var ctx = chart.ctx, x = chart.scales.x, y = chart.scales.y;
          ctx.save();
          ctx.strokeStyle = "#ff0000";
          ctx.lineWidth = 1.5;
          ctx.beginPath();
          ds.data.forEach(function (p, i) {
            var px = x.getPixelForValue(p.x);
            var top = y.getPixelForValue(p.y + ds.errs[i]);
            var bot = y.getPixelForValue(p.y - ds.errs[i]);
            ctx.moveTo(px, top); ctx.lineTo(px, bot);
            ctx.moveTo(px - 4.5, top); ctx.lineTo(px + 4.5, top);
            ctx.moveTo(px - 4.5, bot); ctx.lineTo(px + 4.5, bot);
          });
          ctx.stroke();
          ctx.restore();
        },
      };

      // colour bar body, stripes, outline and ticks
      var colorBar = {
        id: "colorBar",
        afterDraw: function (chart) {
          var ctx = chart.ctx, a = chart.chartArea, y = chart.scales.y;
          var top = y.getPixelForValue(radMax), bot = y.getPixelForValue(radMin);
          var grad = ctx.createLinearGradient(0, bot, 0, top);
          for (var s = 0; s <= 40; s++) {
            grad.addColorStop(s / 40, jet(radMin + (s / 40) * (radMax - radMin), 0.72));
          }
          ctx.save();
          ctx.fillStyle = grad;
          ctx.fillRect(a.left, top, a.right - a.left, bot - top);
          ctx.strokeStyle = "rgba(255,255,255,0.22)";
          ctx.lineWidth = 1;
          ctx.beginPath();
          for (var k = 1; k < 64; k++) {
            var py = Math.round(bot + ((top - bot) * k) / 64) + 0.5;
            ctx.moveTo(a.left, py); ctx.lineTo(a.right, py);
          }
          ctx.stroke();
          ctx.strokeStyle = "#000";
          ctx.beginPath();
          radTicks.forEach(function (v) {
            var p = Math.round(y.getPixelForValue(v)) + 0.5;
            ctx.moveTo(a.right, p); ctx.lineTo(a.right - 4, p);
          });
          ctx.stroke();
          ctx.lineWidth = 1.3;
          ctx.strokeRect(a.left, top, a.right - a.left, bot - top);
          ctx.restore();
        },
      };

      function createPanel(id, pts, binX, binY, binErr) {
        var ctx = document.getElementById(id).getContext("2d");
        new Chart(ctx, {
          type: "scatter",
          data: {
            datasets: [
              {
                data: binX.map(function (v, i) { return { x: v, y: binY[i] }; }),
                errs: binErr,
                pointStyle: "rect",
                pointRadius: 9.2,
                backgroundColor: "#ff0000",
                borderColor: "#000",
                borderWidth: 1,
              },
              {
                data: pts.map(function (p) { return { x: p[0], y: p[1] }; }),
                pointRadius: 4,
                borderWidth: 1,
                borderColor: "rgba(0,0,0,0.55)",
                backgroundColor: pts.map(function (p) { return jet(p[2], 0.6); }),
              },
            ],
          },
          options: {
            responsive: false,
            animation: false,
            layout: { padding: { top: 26, right: 24, left: 0, bottom: 0 } },
            plugins: { legend: { display: false }, tooltip: { enabled: false } },
            scales: {
              x: {
                min: -3.5,
                max: -0.5,
                grid: { display: false, drawTicks: false },
                border: { display: false },
                ticks: { font: tickFont, color: "#000", padding: 5, maxRotation: 0, callback: fmt },
                afterBuildTicks: function (s) { s.ticks = xTicks.map(function (v) { return { value: v }; }); },
                afterFit: function (s) { s.height = 50; },
              },
              y: {
                min: -0.5,
                max: 1.2,
                grid: { display: false, drawTicks: false },
                border: { display: false },
                ticks: { font: tickFont, color: "#000", padding: 6, callback: fmt },
                afterBuildTicks: function (s) { s.ticks = yTicks.map(function (v) { return { value: v }; }); },
                afterFit: function (s) { s.width = 71; },
              },
            },
          },
          plugins: [errorBars, frame],
        });
      }

      function createColorBar(id) {
        var ctx = document.getElementById(id).getContext("2d");
        new Chart(ctx, {
          type: "scatter",
          data: { datasets: [] },
          options: {
            responsive: false,
            animation: false,
            layout: { padding: { top: 26, bottom: 50, left: 1, right: 0 } },
            plugins: { legend: { display: false }, tooltip: { enabled: false } },
            scales: {
              x: { display: false, min: 0, max: 1 },
              y: {
                position: "right",
                min: radMin,
                max: radMax,
                grid: { display: false, drawTicks: false },
                border: { display: false },
                ticks: { font: tickFont, color: "#000", padding: 6, callback: fmt },
                afterBuildTicks: function (s) { s.ticks = radTicks.map(function (v) { return { value: v }; }); },
                afterFit: function (s) { s.width = 40; },
              },
            },
          },
          plugins: [colorBar],
        });
      }

      createPanel("haChart", haPoints, haBinX, haBinY, haBinErr);
      createColorBar("haBar");
      createPanel("fuvChart", fuvPoints, fuvBinX, fuvBinY, fuvBinErr);
      createColorBar("fuvBar");
    </script>
  </body>
</html>
